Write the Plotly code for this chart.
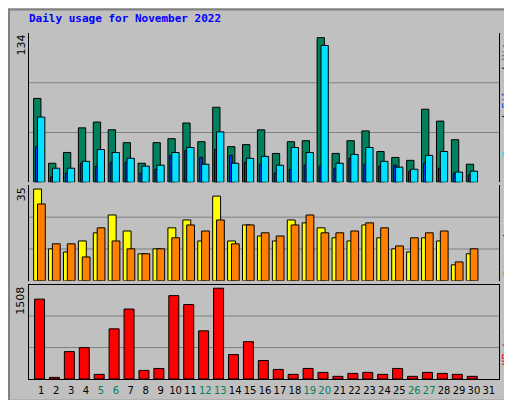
import plotly.graph_objects as go

days = list(range(1, 32))
hits = [77.7,17.6,27.6,50.4,55.8,48.6,36.7,17.6,36.7,40.4,54.9,37.6,69.5,33,34.9,48.6,26.7,37.6,38.5,134,26.7,38.5,47.6,28.5,23,20.3,67.7,56.7,39.4,16.7,None]
files = [60.4,13,13,19.4,30.3,27.6,22.2,14.9,15.8,27.6,32.2,16.7,46.7,17.6,22.2,24,15.8,32.2,27.6,126.8,17.6,25.8,32.2,19.4,14,12.1,24.9,28.5,9.4,10.3,None]
pages = [33,4.9,8.5,17.6,14.9,18.5,18.5,8.5,12.1,24.9,29.4,23,30.3,24.9,18.5,16.7,8.5,12.1,15.8,14.9,13,22.2,16.7,14.9,15.8,10.3,17.6,13,8.5,6.7,None]
sites = [35,12.2,11,15.2,18.3,25.1,19,10.3,12.2,20.2,23.2,15.2,32.3,15.2,21.3,17.1,15.2,23.2,22.1,20.2,16.4,15.2,21.3,16.4,12.2,11,16.4,15.2,6.1,10.3,None]
visits = [29.3,14.1,14.1,9.1,20.2,15.2,12.2,10.3,12.2,16.4,21.3,19,23.2,14.1,21.3,18.3,17.1,21.3,25.1,18.3,18.3,19,22.1,20.2,13.3,16.4,18.3,19,7.2,12.2,None]
kbytes = [1327,27,455,521,77,833,1162,143,175,1385,1237,800,1508,406,620,307,159,77,175,110,44,93,110,77,175,44,110,93,77,44,None]
weekend = {5,6,12,13,19,20,26,27}
ticktext = [f"<span style='color:#00805C'>{d}</span>" if d in weekend else str(d) for d in days]

fig = go.Figure()
def bar(y, ya, color, off, w):
    fig.add_trace(go.Bar(x=days, y=y, xaxis="x", yaxis=ya, offset=off, width=w,
                         marker=dict(color=color, line=dict(color="black", width=1))))
bar(hits, "y", "#00805C", -0.51, 0.49)
bar(pages, "y", "#0040FF", -0.38, 0.18)
bar(files, "y", "#00E0FF", -0.25, 0.49)
bar(sites, "y2", "#FFFF00", -0.51, 0.53)
bar(visits, "y2", "#FF8000", -0.25, 0.52)
bar(kbytes, "y3", "#FF0000", -0.45, 0.67)

ax = dict(showgrid=False, zeroline=False, showticklabels=False, showline=True,
          linecolor="black", mirror=True, ticks="", fixedrange=True)
fig.update_layout(
    width=512, height=400, showlegend=False, barmode="overlay",
    margin=dict(l=21, r=21, t=24, b=23),
    paper_bgcolor="#C0C0C0", plot_bgcolor="#C0C0C0",
    font=dict(family="DejaVu Sans", size=11, color="black"),
    xaxis=dict(range=[0.18, 31.68], tickvals=days, ticktext=ticktext, showgrid=False,
               zeroline=False, showline=True, linecolor="black", mirror=True, ticks="",
               anchor="y3", tickangle=0, tickfont=dict(size=10), ticklabelstandoff=2),
    yaxis=dict(domain=[0.567, 0.997], range=[0, 138.3], anchor="x", **ax),
    yaxis2=dict(domain=[0.283, 0.558], range=[0, 36.4], anchor="x", **ax),
    yaxis3=dict(domain=[0, 0.272], range=[0, 1568], anchor="x", **ax),
)
for ya in ["y", "y2", "y3"]:
    for f in (1/3, 2/3):
        fig.add_shape(type="line", xref="x domain", yref=f"{ya} domain", x0=0, x1=1,
                      y0=f, y1=f, line=dict(color="#808080", width=1), layer="below")
fig.add_shape(type="rect", xref="paper", yref="paper", x0=-20/470, x1=1+19/470,
              y0=-22/353, y1=1+23/353, line=dict(color="#808080", width=2))
fig.add_annotation(text="<b>Daily usage for November 2022</b>", xref="paper", yref="paper",
                   x=-2/470, y=1+14/353, xanchor="left", yanchor="middle", showarrow=False,
                   font=dict(family="DejaVu Sans Mono", size=11, color="#0000FF"))
for txt, ytop in [("134", 25), ("35", 180), ("1508", 281)]:
    fig.add_annotation(text=txt, xref="paper", yref="paper", x=-8/470, y=(377-ytop)/353,
                       xanchor="center", yanchor="top", textangle=-90, showarrow=False,
                       font=dict(size=11))
def rlabel(parts, ymid):
    txt = "<span style='color:black'> / </span>".join(f"<span style='color:{c}'>{t}</span>" for t, c in parts)
    fig.add_annotation(text=txt, xref="paper", yref="paper", x=1+8/470, y=(377-ymid)/353,
                       xanchor="center", yanchor="middle", textangle=-90, showarrow=False,
                       font=dict(family="DejaVu Sans Mono", size=10))
rlabel([("Pages", "#00E0FF"), ("Files", "#0040FF"), ("Hits", "#00805C")], 90)
rlabel([("Sites", "#FF8000"), ("Visits", "#FFFF00")], 230)
rlabel([("KBytes", "#FF0000")], 345)
fig.write_html("out.html")
